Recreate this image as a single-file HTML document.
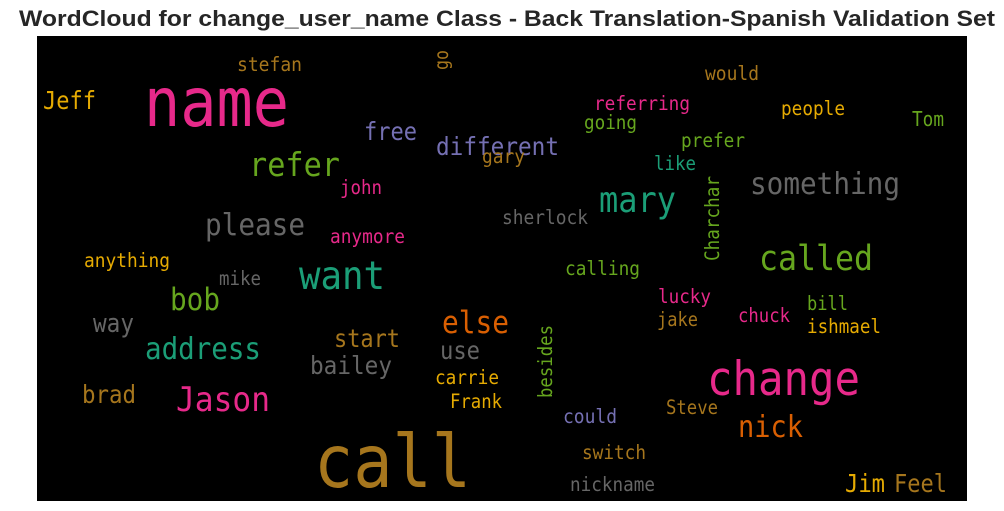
<!DOCTYPE html>
<html><head><meta charset="utf-8"><style>
html,body{margin:0;padding:0;background:#fff;}
svg{display:block;}
.w{font-family:"DejaVu Sans Mono","Liberation Mono",monospace;}
</style></head><body>
<svg width="1004" height="511" viewBox="0 0 1004 511" xmlns="http://www.w3.org/2000/svg">
<rect width="1004" height="511" fill="#fff"/>
<text x="507" y="26" text-anchor="middle" font-family="Liberation Sans, Arial, sans-serif" font-weight="bold" font-size="22" fill="#262626" textLength="976" lengthAdjust="spacingAndGlyphs">WordCloud for change_user_name Class - Back Translation-Spanish Validation Set</text>
<rect x="37" y="36" width="930" height="465" fill="#000"/>
<g class="w">
<text x="237" y="71" font-size="19.9" fill="#a6761d" textLength="65" lengthAdjust="spacingAndGlyphs">stefan</text>
<text x="43" y="109" font-size="24.6" fill="#e6ab02" textLength="53" lengthAdjust="spacingAndGlyphs">Jeff</text>
<text x="144" y="126" font-size="67.5" fill="#e7298a" textLength="145" lengthAdjust="spacingAndGlyphs">name</text>
<text x="364" y="140" font-size="24.6" fill="#7570b3" textLength="53" lengthAdjust="spacingAndGlyphs">free</text>
<text x="436" y="155" font-size="24.6" fill="#7570b3" textLength="123" lengthAdjust="spacingAndGlyphs">different</text>
<text x="482" y="163" font-size="19.8" fill="#a6761d" textLength="43" lengthAdjust="spacingAndGlyphs">gary</text>
<text x="249" y="176" font-size="33" fill="#66a61e" textLength="91" lengthAdjust="spacingAndGlyphs">refer</text>
<text x="340" y="194" font-size="19.3" fill="#e7298a" textLength="42" lengthAdjust="spacingAndGlyphs">john</text>
<text x="205" y="235" font-size="30.6" fill="#666666" textLength="100" lengthAdjust="spacingAndGlyphs">please</text>
<text x="330" y="243" font-size="19.3" fill="#e7298a" textLength="75" lengthAdjust="spacingAndGlyphs">anymore</text>
<text x="84" y="267" font-size="19.6" fill="#e6ab02" textLength="86" lengthAdjust="spacingAndGlyphs">anything</text>
<text x="502" y="224" font-size="19.3" fill="#666666" textLength="86" lengthAdjust="spacingAndGlyphs">sherlock</text>
<text x="705" y="80" font-size="19.9" fill="#a6761d" textLength="54" lengthAdjust="spacingAndGlyphs">would</text>
<text x="594" y="110" font-size="19.3" fill="#e7298a" textLength="96" lengthAdjust="spacingAndGlyphs">referring</text>
<text x="584" y="129" font-size="19.3" fill="#66a61e" textLength="53" lengthAdjust="spacingAndGlyphs">going</text>
<text x="781" y="115" font-size="19.3" fill="#e6ab02" textLength="64" lengthAdjust="spacingAndGlyphs">people</text>
<text x="912" y="126" font-size="20.3" fill="#66a61e" textLength="32" lengthAdjust="spacingAndGlyphs">Tom</text>
<text x="681" y="147" font-size="19.3" fill="#66a61e" textLength="64" lengthAdjust="spacingAndGlyphs">prefer</text>
<text x="654" y="170" font-size="19.3" fill="#1b9e77" textLength="42" lengthAdjust="spacingAndGlyphs">like</text>
<text x="750" y="194" font-size="30" fill="#666666" textLength="150" lengthAdjust="spacingAndGlyphs">something</text>
<text x="599" y="212" font-size="35.3" fill="#1b9e77" textLength="77" lengthAdjust="spacingAndGlyphs">mary</text>
<text x="759" y="270" font-size="34.9" fill="#66a61e" textLength="114" lengthAdjust="spacingAndGlyphs">called</text>
<text x="299" y="289" font-size="39.6" fill="#1b9e77" textLength="86" lengthAdjust="spacingAndGlyphs">want</text>
<text x="219" y="285" font-size="19.3" fill="#666666" textLength="42" lengthAdjust="spacingAndGlyphs">mike</text>
<text x="170" y="310" font-size="31" fill="#66a61e" textLength="50" lengthAdjust="spacingAndGlyphs">bob</text>
<text x="93" y="332" font-size="25.7" fill="#666666" textLength="41" lengthAdjust="spacingAndGlyphs">way</text>
<text x="442" y="333" font-size="31" fill="#d95f02" textLength="67" lengthAdjust="spacingAndGlyphs">else</text>
<text x="334" y="347" font-size="24.6" fill="#a6761d" textLength="66" lengthAdjust="spacingAndGlyphs">start</text>
<text x="145" y="359" font-size="30" fill="#1b9e77" textLength="116" lengthAdjust="spacingAndGlyphs">address</text>
<text x="440" y="359" font-size="25.1" fill="#666666" textLength="40" lengthAdjust="spacingAndGlyphs">use</text>
<text x="310" y="374" font-size="25" fill="#666666" textLength="82" lengthAdjust="spacingAndGlyphs">bailey</text>
<text x="435" y="384" font-size="19.3" fill="#e6ab02" textLength="64" lengthAdjust="spacingAndGlyphs">carrie</text>
<text x="82" y="403" font-size="25.1" fill="#a6761d" textLength="54" lengthAdjust="spacingAndGlyphs">brad</text>
<text x="176" y="411" font-size="34.2" fill="#e7298a" textLength="94" lengthAdjust="spacingAndGlyphs">Jason</text>
<text x="450" y="408" font-size="19.3" fill="#e6ab02" textLength="52" lengthAdjust="spacingAndGlyphs">Frank</text>
<text x="314" y="487" font-size="72.8" fill="#a6761d" textLength="157" lengthAdjust="spacingAndGlyphs">call</text>
<text x="565" y="275" font-size="19.3" fill="#66a61e" textLength="75" lengthAdjust="spacingAndGlyphs">calling</text>
<text x="658" y="303" font-size="19.3" fill="#e7298a" textLength="53" lengthAdjust="spacingAndGlyphs">lucky</text>
<text x="807" y="310" font-size="19.3" fill="#66a61e" textLength="41" lengthAdjust="spacingAndGlyphs">bill</text>
<text x="657" y="326" font-size="19.3" fill="#a6761d" textLength="41" lengthAdjust="spacingAndGlyphs">jake</text>
<text x="738" y="322" font-size="19.3" fill="#e7298a" textLength="52" lengthAdjust="spacingAndGlyphs">chuck</text>
<text x="807" y="333" font-size="19.3" fill="#e6ab02" textLength="74" lengthAdjust="spacingAndGlyphs">ishmael</text>
<text x="707" y="395" font-size="47" fill="#e7298a" textLength="153" lengthAdjust="spacingAndGlyphs">change</text>
<text x="666" y="414" font-size="19.3" fill="#a6761d" textLength="52" lengthAdjust="spacingAndGlyphs">Steve</text>
<text x="563" y="423" font-size="19.3" fill="#7570b3" textLength="54" lengthAdjust="spacingAndGlyphs">could</text>
<text x="738" y="437" font-size="30" fill="#d95f02" textLength="65" lengthAdjust="spacingAndGlyphs">nick</text>
<text x="582" y="459" font-size="19.3" fill="#a6761d" textLength="64" lengthAdjust="spacingAndGlyphs">switch</text>
<text x="570" y="491" font-size="19.3" fill="#666666" textLength="85" lengthAdjust="spacingAndGlyphs">nickname</text>
<text x="845" y="492" font-size="25.1" fill="#e6ab02" textLength="40" lengthAdjust="spacingAndGlyphs">Jim</text>
<text x="894" y="492" font-size="24.6" fill="#a6761d" textLength="53" lengthAdjust="spacingAndGlyphs">Feel</text>
<text transform="translate(448,70) rotate(-90)" font-size="19.3" fill="#a6761d" textLength="20" lengthAdjust="spacingAndGlyphs">go</text>
<text transform="translate(719,261) rotate(-90)" font-size="19.3" fill="#66a61e" textLength="85" lengthAdjust="spacingAndGlyphs">Charchar</text>
<text transform="translate(552,398) rotate(-90)" font-size="19.3" fill="#66a61e" textLength="73" lengthAdjust="spacingAndGlyphs">besides</text>
</g>
</svg>
</body></html>
